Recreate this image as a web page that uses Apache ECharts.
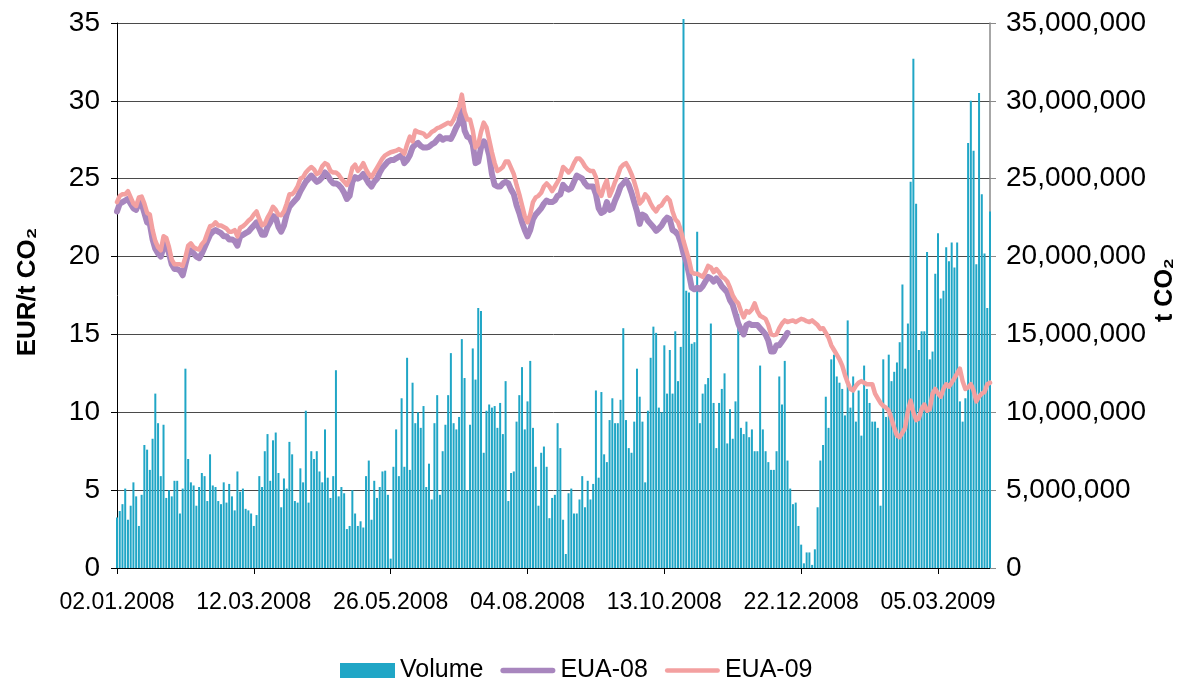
<!DOCTYPE html>
<html><head><meta charset="utf-8">
<script src="https://cdn.jsdelivr.net/npm/echarts@6/dist/echarts.min.js"></script>
<style>html,body{margin:0;padding:0;background:#fff}#c{width:1181px;height:679px}</style>
</head><body><div id="c"></div>
<script>
// first trading day and exchange holidays (categories are trading days)
const startDate = '2008-01-02';
const holidays = ['2008-03-21','2008-03-24','2008-05-01','2008-12-25','2008-12-26','2009-01-01'];

// traded volume, million t CO2
const volume = [
3.25,3.66,4.1,5.1,3.1,4.0,5.5,4.6,2.7,4.7,7.9,7.6,6.3,8.3,11.2,9.3,5.9,9.2,4.5,5.0,4.6,5.6,5.6,3.5,5.1,12.8,7.0,5.5,5.3,4.0,5.2,6.1,5.9,4.3,7.3,5.3,5.2,4.3,4.1,5.5,
4.2,5.4,4.6,3.7,6.2,4.9,5.1,3.8,3.7,3.5,2.7,3.4,5.9,5.2,7.5,8.6,5.6,8.2,8.7,6.1,3.9,5.75,5.1,8.1,7.3,4.3,4.2,6.4,5.5,10.1,4.2,7.5,7.0,7.5,6.2,5.5,8.9,5.8,4.5,5.9,
12.7,4.6,5.2,4.8,2.5,2.7,5.0,3.5,2.7,3.0,2.6,5.9,6.9,3.1,5.6,4.5,5.2,6.2,6.25,4.7,0.6,6.5,8.9,5.9,10.9,6.5,13.5,6.3,11.9,9.3,10.0,9.0,10.4,5.2,6.7,4.4,9.3,11.1,4.7,
7.5,9.2,11.1,13.8,9.3,8.9,9.7,14.7,12.2,5.0,9.2,14.1,12.1,16.7,16.5,7.4,10.1,10.5,10.3,10.4,9.0,10.6,8.6,12.0,4.3,6.1,6.2,9.4,11.1,12.9,8.9,10.7,13.3,9.0,6.5,4.0,7.4,7.8,6.5,3.2,
4.5,4.7,9.3,7.7,3.1,0.9,4.8,5.1,3.5,3.5,4.4,5.9,3.9,5.6,4.4,5.4,11.4,5.8,11.3,7.3,6.8,9.5,10.9,9.3,9.3,10.8,15.4,9.5,7.7,7.4,9.4,12.8,11.0,9.4,5.5,10.1,13.5,15.5,15.1,10.3,
10.0,14.3,11.2,14.0,11.2,15.2,12.0,14.2,35.25,17.8,17.7,14.4,14.5,21.6,9.3,11.2,11.8,12.2,15.7,10.6,7.7,10.6,11.5,12.5,8.0,10.2,8.3,10.7,16.3,9.0,8.6,9.4,8.4,8.9,7.5,7.5,13.0,8.9,7.5,6.8,6.3,
6.3,7.5,12.3,10.5,13.3,6.9,5.1,4.1,4.2,2.7,1.5,0.3,1.0,1.0,0.2,1.2,3.9,6.9,7.9,11.0,9.0,13.4,13.7,12.3,11.9,11.5,9.8,15.9,10.3,12.3,9.4,11.4,8.5,13.0,11.5,10.6,9.4,9.4,9.0,4.0,
13.4,9.7,13.7,12.0,12.6,13.2,14.5,18.2,12.8,15.7,24.8,32.7,23.4,14.0,15.2,15.2,20.3,13.4,13.9,18.9,21.5,17.3,17.8,20.6,19.7,20.9,19.3,20.9,10.7,9.4,10.9,27.3,30.0,26.8,19.5,30.5,24.0,20.2,16.7,22.9
];

// EUA Dec-08 price, EUR/t CO2 (contract ends mid-December 2008)
const eua08 = [
22.9,23.4,23.5,23.6,23.7,23.4,23.1,23.0,23.5,23.4,22.8,22.2,22.1,21.1,20.5,20.2,20.0,20.6,20.9,20.2,19.5,19.2,19.2,19.1,18.8,19.5,20.2,20.4,20.2,20.0,19.9,20.2,20.6,21.0,21.4,21.6,21.7,21.6,21.5,21.3,
21.3,21.1,21.1,21.0,20.7,21.3,21.4,21.5,21.6,21.8,22.0,22.2,21.8,21.4,21.4,21.9,22.2,22.6,22.5,21.9,21.6,22.0,22.7,23.2,23.4,23.6,23.8,24.2,24.5,24.8,25.0,25.2,25.0,24.8,24.9,25.1,25.4,25.2,24.9,24.7,
24.7,24.6,24.4,24.1,23.7,23.9,24.8,25.1,25.0,25.1,25.3,25.0,24.7,24.5,24.8,25.0,25.4,25.7,25.9,26.1,26.2,26.2,26.3,26.4,26.5,26.0,26.2,26.5,27.0,27.2,27.3,27.1,27.0,27.0,27.05,27.2,27.3,27.5,27.7,
27.5,27.6,27.6,27.55,27.9,28.3,28.6,29.4,28.1,27.7,27.6,27.2,26.0,26.1,27.0,27.4,27.2,26.5,25.3,24.6,24.5,24.5,24.7,24.8,24.7,24.3,24.0,23.3,22.8,22.2,21.7,21.3,21.7,22.4,22.7,22.9,23.1,23.4,23.6,23.5,
23.5,23.6,23.9,24.0,24.6,24.4,24.3,24.4,24.8,25.2,25.1,25.0,24.7,24.5,24.5,24.5,24.0,23.1,22.8,22.9,23.5,23.0,23.1,23.6,24.0,24.5,24.7,24.9,24.6,24.1,23.5,22.9,22.1,22.7,22.6,22.3,22.1,21.9,21.65,21.8,
22.0,22.3,22.5,22.4,21.7,21.6,21.4,20.9,20.2,19.7,18.9,18.0,17.9,18.0,17.9,18.1,18.4,18.7,18.6,18.4,18.6,18.4,18.1,17.9,17.7,17.2,16.9,16.3,15.7,15.3,15.0,15.6,15.7,15.6,15.6,15.6,15.4,15.2,15.0,14.6,13.9,
13.9,14.3,14.3,14.55,14.8,15.1
];

// EUA Dec-09 price, EUR/t CO2
const eua09 = [
23.5,23.9,24.0,24.0,24.2,23.8,23.4,23.25,23.8,23.85,23.4,22.8,22.7,21.7,21.0,20.6,20.4,21.3,21.2,20.6,19.8,19.5,19.5,19.5,19.4,19.95,20.7,20.85,20.6,20.5,20.45,20.8,21.0,21.5,21.95,22.0,22.2,22.0,22.0,21.9,
21.8,21.6,21.6,21.7,21.3,21.85,21.95,22.1,22.3,22.45,22.7,22.9,22.4,22.0,22.1,22.5,22.8,23.2,23.0,22.7,22.65,22.9,23.4,24.0,24.0,24.2,24.5,25.0,25.1,25.4,25.6,25.75,25.6,25.3,25.4,25.8,26.0,25.9,25.5,25.4,
25.4,25.25,25.0,24.8,24.6,25.0,25.7,25.9,25.5,25.7,26.0,25.6,25.3,25.1,25.4,25.7,26.0,26.3,26.5,26.6,26.7,26.75,26.8,26.9,26.8,26.6,27.2,27.7,27.4,28.1,28.0,27.95,27.9,27.7,27.8,28.0,28.1,28.25,28.3,
28.4,28.5,28.6,28.5,28.8,29.2,29.6,30.4,29.3,28.8,28.8,28.1,27.0,27.2,28.0,28.6,28.3,27.5,26.7,26.0,25.5,25.6,25.75,26.1,26.1,25.7,25.3,24.6,24.0,23.3,22.6,22.2,22.7,23.5,23.8,23.9,24.1,24.5,24.7,24.5,
24.2,24.5,24.8,25.1,25.75,25.6,25.4,25.6,26.0,26.3,26.3,26.1,25.8,25.6,25.5,25.5,25.1,24.2,23.9,24.5,24.9,23.9,24.3,24.8,25.2,25.7,25.9,26.0,25.7,25.3,24.8,24.2,23.4,23.6,24.0,23.8,23.4,23.1,22.9,23.2,
23.3,23.6,23.8,23.6,22.9,22.4,22.2,21.7,21.0,20.4,19.8,19.0,18.9,18.9,18.8,18.7,19.0,19.4,19.3,19.0,19.2,19.0,18.7,18.6,18.4,18.0,17.5,17.2,17.0,16.5,16.1,16.5,16.4,16.6,17.0,16.5,16.2,16.1,16.0,15.6,15.0,
14.95,15.0,15.4,15.7,15.9,15.8,15.85,15.9,15.8,15.9,16.0,15.95,15.85,15.8,15.9,15.75,15.6,15.35,15.4,15.1,14.8,14.3,14.0,13.7,13.4,13.0,12.4,11.9,11.5,11.4,11.7,11.9,12.0,11.9,11.8,11.8,11.8,11.2,10.9,
10.6,10.4,10.3,10.1,9.6,9.0,8.5,8.4,8.7,9.0,10.1,10.75,10.0,9.5,9.6,10.2,10.5,10.1,10.2,11.2,11.5,11.2,11.0,11.5,11.8,11.65,11.9,12.2,12.5,12.8,12.0,11.5,11.6,11.8,11.4,10.7,11.0,11.2,11.3,11.8,11.9
];

const seriesNames = ['Volume', 'EUA-08', 'EUA-09'];
const leftAxisName = 'EUR/t CO₂';
const rightAxisName = 't CO₂';

function tradingDays(start, n, skip) {
  const out = [];
  const d = new Date(start + 'T00:00:00Z');
  while (out.length < n) {
    const w = d.getUTCDay();
    const iso = d.toISOString().slice(0, 10);
    if (w !== 0 && w !== 6 && skip.indexOf(iso) < 0) {
      out.push(iso.slice(8, 10) + '.' + iso.slice(5, 7) + '.' + iso.slice(0, 4));
    }
    d.setUTCDate(d.getUTCDate() + 1);
  }
  return out;
}
const categories = tradingDays(startDate, eua09.length, holidays);

const FONT = '"Liberation Sans", Arial, sans-serif';
const lineIconThick = 'path://M5,0 L95,0 A5,5 0 0 1 95,10 L5,10 A5,5 0 0 1 5,0 Z';
const lineIconThin = 'path://M4,0 L96,0 A4,4 0 0 1 96,8 L4,8 A4,4 0 0 1 4,0 Z';

const chart = echarts.init(document.getElementById('c'), null, {renderer: 'canvas'});
chart.setOption({
  animation: false,
  backgroundColor: '#fff',
  textStyle: {fontFamily: FONT},
  grid: {left: 117, right: 191, top: 23, bottom: 111, containLabel: false},
  legend: {
    left: 335, top: 653, itemGap: 17, itemWidth: 55, itemHeight: 15, symbolKeepAspect: true,
    textStyle: {fontSize: 25, color: '#000', fontFamily: FONT},
    data: [
      {name: seriesNames[0], icon: 'rect'},
      {name: seriesNames[1], icon: lineIconThick},
      {name: seriesNames[2], icon: lineIconThin}
    ]
  },
  xAxis: {
    type: 'category', data: categories, boundaryGap: false,
    axisLine: {lineStyle: {color: '#000', width: 1}},
    axisTick: {interval: 49, length: 6, lineStyle: {color: '#000'}},
    axisLabel: {interval: 49, fontSize: 23, color: '#000', margin: 23, fontFamily: FONT},
    splitLine: {show: false}
  },
  yAxis: [
    {type: 'value', min: 0, max: 35, interval: 5, position: 'left',
     axisLine: {show: true, lineStyle: {color: '#000'}},
     axisTick: {show: true, length: 6, lineStyle: {color: '#000'}},
     axisLabel: {fontSize: 28, color: '#000', margin: 17, fontFamily: FONT},
     splitLine: {show: true, lineStyle: {color: '#4a4a4a', width: 1}}},
    {type: 'value', min: 0, max: 35, interval: 5, position: 'right',
     axisLine: {show: true, lineStyle: {color: '#8a8a8a', width: 1.5}},
     axisTick: {show: true, length: 6, lineStyle: {color: '#8a8a8a'}},
     axisLabel: {fontSize: 28, color: '#000', margin: 16, fontFamily: FONT,
       formatter: v => Math.round(v * 1e6).toLocaleString('en-US')},
     splitLine: {show: false}}
  ],
  graphic: [
    {type: 'text', x: 28, y: 292, rotation: Math.PI / 2,
     style: {text: leftAxisName, fontSize: 26, fontWeight: 'bold', fill: '#000', fontFamily: FONT, align: 'center', verticalAlign: 'middle'}},
    {type: 'text', x: 1165, y: 290, rotation: Math.PI / 2,
     style: {text: rightAxisName, fontSize: 25, fontWeight: 'bold', fill: '#000', fontFamily: FONT, align: 'center', verticalAlign: 'middle'}}
  ],
  series: [
    {name: seriesNames[0], type: 'bar', yAxisIndex: 1, data: volume, barWidth: 2, clip: false,
     itemStyle: {color: '#20A6C6'}},
    {name: seriesNames[1], type: 'line', yAxisIndex: 0, data: eua08, symbol: 'none', showSymbol: false,
     lineStyle: {color: '#A886BE', width: 6, cap: 'round', join: 'round'}, itemStyle: {color: '#A886BE'}},
    {name: seriesNames[2], type: 'line', yAxisIndex: 0, data: eua09, symbol: 'none', showSymbol: false,
     lineStyle: {color: '#F3A0A0', width: 4.5, cap: 'round', join: 'round'}, itemStyle: {color: '#F3A0A0'}}
  ]
});
</script></body></html>
